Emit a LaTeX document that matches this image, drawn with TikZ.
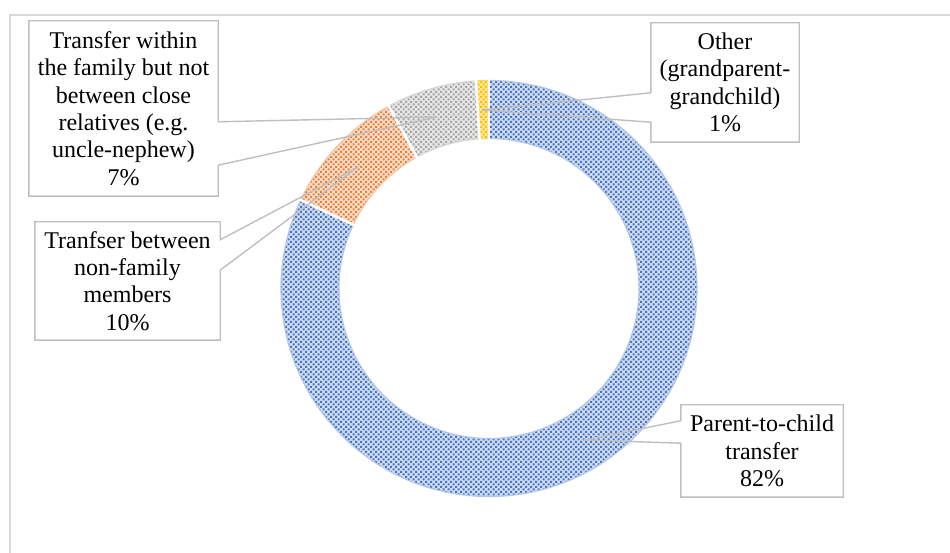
\documentclass[tikz,border=0pt]{standalone}
\usepackage{fontspec}
\setmainfont{Liberation Serif}
\usetikzlibrary{patterns}
\pgfdeclarepatternformonly{diagdots}{\pgfqpoint{-0.1pt}{-0.1pt}}{\pgfqpoint{5.1pt}{5.1pt}}{\pgfqpoint{5pt}{5pt}}{%
  \pgfpathrectangle{\pgfqpoint{0pt}{0pt}}{\pgfqpoint{2pt}{2pt}}%
  \pgfpathrectangle{\pgfqpoint{2.5pt}{2.5pt}}{\pgfqpoint{2pt}{2pt}}%
  \pgfusepath{fill}}
\definecolor{bluebg}{HTML}{D3DEF3}
\definecolor{bluedot}{HTML}{4472C4}
\definecolor{blueedge}{HTML}{B4C7E7}
\definecolor{orangebg}{HTML}{FBE0CF}
\definecolor{orangedot}{HTML}{ED7D31}
\definecolor{orangeedge}{HTML}{F4C4A4}
\definecolor{graybg}{HTML}{E8E8E8}
\definecolor{graydot}{HTML}{A5A5A5}
\definecolor{grayedge}{HTML}{D6D6D6}
\definecolor{yellowbg}{HTML}{FFE699}
\definecolor{yellowdot}{HTML}{FFC000}
\definecolor{yellowedge}{HTML}{FFD966}
\definecolor{leadgray}{HTML}{BFBFBF}
\definecolor{framegray}{HTML}{D9D9D9}
\newcommand\ringseg[5]{%
  \fill[#3] (#1:208) arc[start angle=#1,end angle=#2,radius=208] -- (#2:150) arc[start angle=#2,end angle=#1,radius=150] -- cycle;
  \fill[pattern=diagdots, pattern color=#4] (#1:208) arc[start angle=#1,end angle=#2,radius=208] -- (#2:150) arc[start angle=#2,end angle=#1,radius=150] -- cycle;
  \draw[#5, line width=1.2pt] (#1:208) arc[start angle=#1,end angle=#2,radius=208] -- (#2:150) arc[start angle=#2,end angle=#1,radius=150] -- cycle;
}
\tikzset{
  lbl/.style={inner sep=0pt, align=center, font=\fontsize{24}{27.4}\selectfont},
  callout/.style={draw=leadgray, line width=1.4pt, line join=miter},
}
\begin{document}
\begin{tikzpicture}[x=1pt,y=1pt]
\useasboundingbox (0,0) rectangle (950,553);
\clip (0,0) rectangle (950,553);
\fill[white] (0,0) rectangle (950,553);
\draw[framegray, line width=1.2pt] (10,-20) rectangle (970,538);
% ring
\begin{scope}[shift={(489,264.5)}]
  \ringseg{90}{-205.2}{bluebg}{bluedot}{blueedge}
  \ringseg{154.8}{118.8}{orangebg}{orangedot}{orangeedge}
  \ringseg{118.8}{93.6}{graybg}{graydot}{grayedge}
  \ringseg{93.6}{90}{yellowbg}{yellowdot}{yellowedge}
  \foreach \a in {90,154.8,118.8,93.6}
    \draw[white, line width=2.6pt] (\a:146) -- (\a:212);
\end{scope}
% tips
\coordinate (tipfam) at (437,436);
\coordinate (tipnon) at (358,386);
\coordinate (tipoth) at (482,443);
\coordinate (tippar) at (585,113);
% labels
\node[lbl, minimum width=189pt, minimum height=175pt] (fam) at (123.5,444.5)
  {Transfer within\\the family but not\\between close\\relatives (e.g.\\uncle-nephew)\\7\%};
\node[lbl, minimum width=185pt, minimum height=118pt] (non) at (127.5,272)
  {Tranfser between\\non-family\\members\\10\%};
\node[lbl, minimum width=148pt, minimum height=119pt] (oth) at (725,470.5)
  {Other\\(grandparent-\\grandchild)\\1\%};
\node[lbl, minimum width=162pt, minimum height=92pt] (par) at (762,102)
  {Parent-to-child\\transfer\\82\%};
% callouts
\draw[callout] (fam.north west) -- (fam.north east) -- ([yshift=-101pt]fam.north east) -- (tipfam)
  -- ([yshift=31pt]fam.south east) -- (fam.south east) -- (fam.south west) -- cycle;
\draw[callout] (non.north west) -- (non.north east) -- ([yshift=-18pt]non.north east) -- (tipnon)
  -- ([yshift=70pt]non.south east) -- (non.south east) -- (non.south west) -- cycle;
\draw[callout] (oth.north east) -- (oth.north west) -- ([yshift=-70pt]oth.north west) -- (tipoth)
  -- ([yshift=20pt]oth.south west) -- (oth.south west) -- (oth.south east) -- cycle;
\draw[callout] (par.north east) -- (par.north west) -- ([yshift=-16pt]par.north west) -- (tippar)
  -- ([yshift=54pt]par.south west) -- (par.south west) -- (par.south east) -- cycle;
\end{tikzpicture}
\end{document}
